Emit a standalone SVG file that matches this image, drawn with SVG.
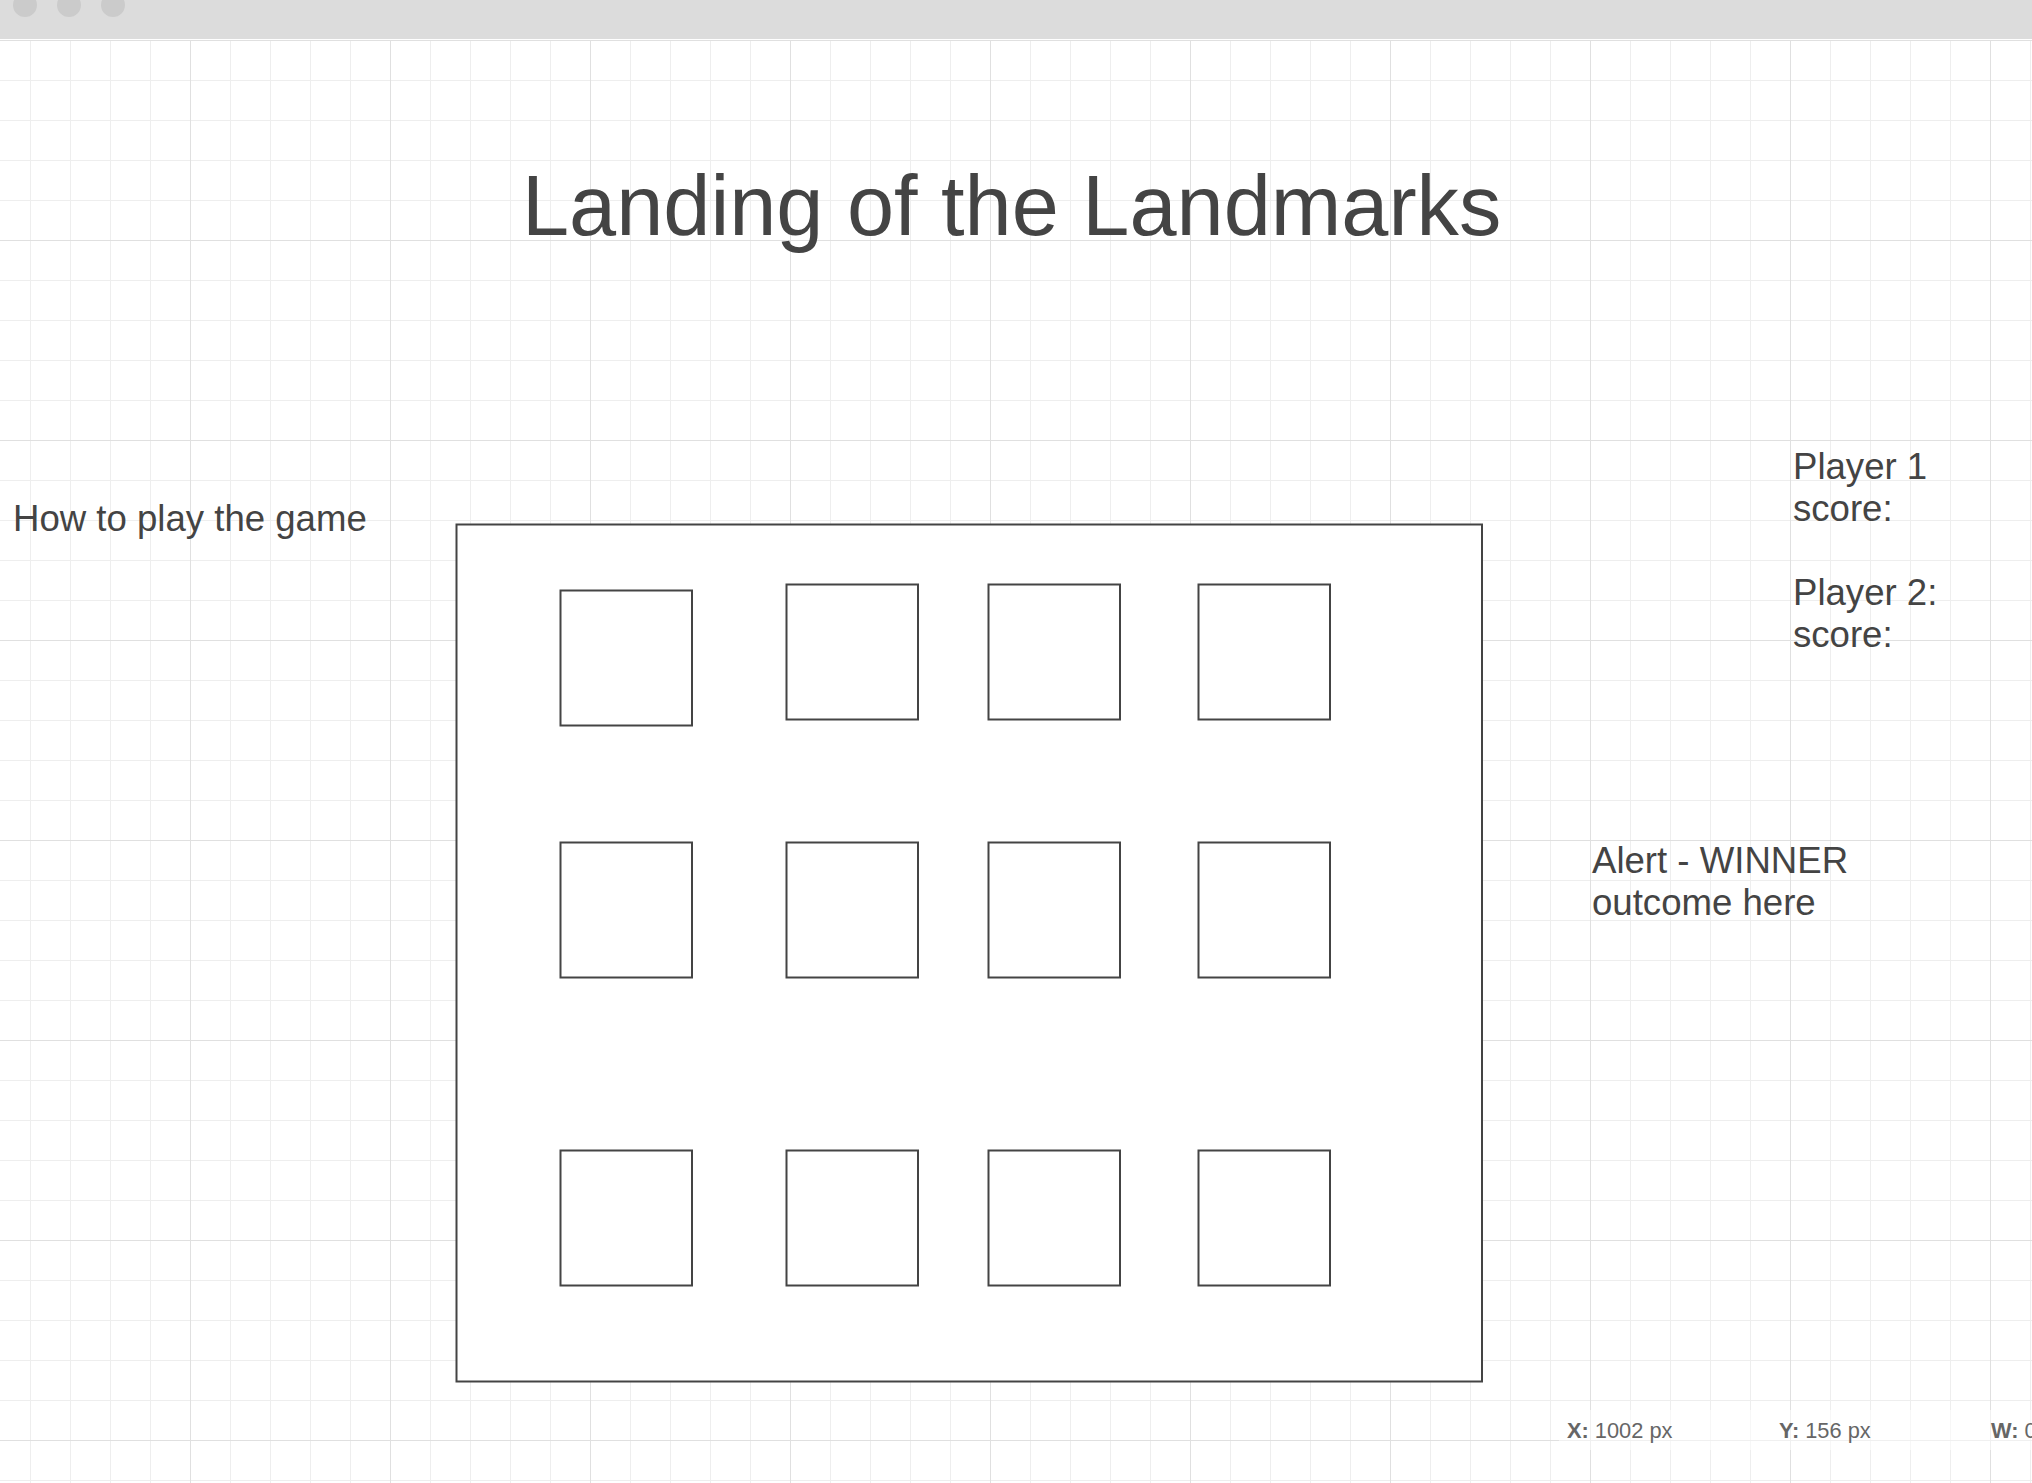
<svg xmlns="http://www.w3.org/2000/svg" width="2032" height="1483" viewBox="0 0 2032 1483">
  <defs>
    <pattern id="gridMinor" patternUnits="userSpaceOnUse" x="30" y="40" width="40" height="40">
      <path d="M0.5 0 V40 M0 0.5 H40" fill="none" stroke="#eeeeee" stroke-width="1"/>
    </pattern>
    <pattern id="gridMajor" patternUnits="userSpaceOnUse" x="190" y="40" width="200" height="200">
      <path d="M0.5 0 V200 M0 0.5 H200" fill="none" stroke="#e0e0e0" stroke-width="1"/>
    </pattern>
    <style>
      .label { font-family: "Liberation Sans", Arial, sans-serif; fill: #444444; }
      .big { font-size: 36.6px; }
      .title { font-size: 84.7px; }
      .status { font-family: "Liberation Sans", Arial, sans-serif; font-size: 21.8px; fill: #666666; }
      .status .b { font-weight: bold; }
      .box { fill: #ffffff; stroke: #444444; stroke-width: 2; }
      .tile { fill: #ffffff; stroke: #444444; stroke-width: 2; }
    </style>
  </defs>

  <!-- canvas background and grid -->
  <rect x="0" y="0" width="2032" height="1483" fill="#ffffff"/>
  <rect x="0" y="40" width="2032" height="1443" fill="url(#gridMinor)"/>
  <rect x="0" y="40" width="2032" height="1443" fill="url(#gridMajor)"/>

  <!-- window top bar -->
  <g id="topbar">
    <rect x="0" y="0" width="2032" height="39" fill="#dcdcdc"/>
    <circle cx="25" cy="5" r="12" fill="#cbcbcb"/>
    <circle cx="69" cy="5" r="12" fill="#cbcbcb"/>
    <circle cx="113" cy="5" r="12" fill="#cbcbcb"/>
  </g>

  <g id="title">
    <text class="label title" x="522" y="235">Landing of the Landmarks</text>
  </g>

  <g id="how-to-play">
    <text class="label big" x="13" y="531">How to play the game</text>
  </g>

  <g id="scores">
    <text class="label big" x="1793" y="479">Player 1</text>
    <text class="label big" x="1793" y="521">score:</text>
    <text class="label big" x="1793" y="605">Player 2:</text>
    <text class="label big" x="1793" y="647">score:</text>
  </g>

  <g id="alert">
    <text class="label big" x="1592" y="873">Alert - WINNER</text>
    <text class="label big" x="1592" y="915">outcome here</text>
  </g>

  <g id="board">
    <rect class="box" x="456.5" y="524.5" width="1025.5" height="857"/>
  </g>

  <g id="tiles">
    <g id="tile-1-1"><rect class="tile" x="560.5" y="590.5" width="131.5" height="135"/></g>
    <g id="tile-1-2"><rect class="tile" x="786.5" y="584.5" width="131.5" height="135"/></g>
    <g id="tile-1-3"><rect class="tile" x="988.5" y="584.5" width="131.5" height="135"/></g>
    <g id="tile-1-4"><rect class="tile" x="1198.5" y="584.5" width="131.5" height="135"/></g>

    <g id="tile-2-1"><rect class="tile" x="560.5" y="842.5" width="131.5" height="135"/></g>
    <g id="tile-2-2"><rect class="tile" x="786.5" y="842.5" width="131.5" height="135"/></g>
    <g id="tile-2-3"><rect class="tile" x="988.5" y="842.5" width="131.5" height="135"/></g>
    <g id="tile-2-4"><rect class="tile" x="1198.5" y="842.5" width="131.5" height="135"/></g>

    <g id="tile-3-1"><rect class="tile" x="560.5" y="1150.5" width="131.5" height="135"/></g>
    <g id="tile-3-2"><rect class="tile" x="786.5" y="1150.5" width="131.5" height="135"/></g>
    <g id="tile-3-3"><rect class="tile" x="988.5" y="1150.5" width="131.5" height="135"/></g>
    <g id="tile-3-4"><rect class="tile" x="1198.5" y="1150.5" width="131.5" height="135"/></g>
  </g>

  <g id="connectors"></g>

  <g id="statusbar">
    <rect x="1559" y="1410" width="473" height="40" fill="#ffffff" fill-opacity="0.5"/>
    <text class="status" x="1567" y="1438"><tspan class="b">X:</tspan> 1002 px</text>
    <text class="status" x="1779" y="1438"><tspan class="b">Y:</tspan> 156 px</text>
    <text class="status" x="1991" y="1438"><tspan class="b">W:</tspan> 0</text>
  </g>
</svg>
